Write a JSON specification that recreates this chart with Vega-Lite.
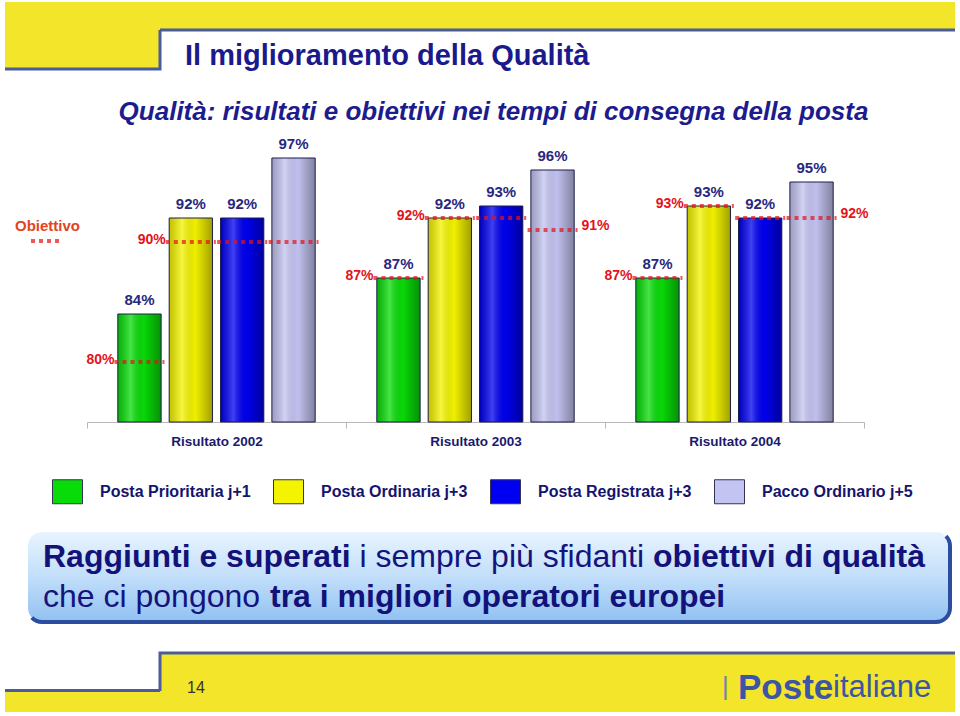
{
  "$schema": "https://vega.github.io/schema/vega-lite/v6.json",
  "padding": 0,
  "background": "white",
  "config": {"view": {"stroke": null}, "font": "Liberation Sans"},
  "datasets": {
    "qualita": [
      {"anno": "Risultato 2002", "servizio": "Posta Prioritaria j+1", "risultato": 0.84, "obiettivo": 0.80},
      {"anno": "Risultato 2002", "servizio": "Posta Ordinaria j+3", "risultato": 0.92, "obiettivo": 0.90},
      {"anno": "Risultato 2002", "servizio": "Posta Registrata j+3", "risultato": 0.92, "obiettivo": 0.90},
      {"anno": "Risultato 2002", "servizio": "Pacco Ordinario j+5", "risultato": 0.97, "obiettivo": 0.90},
      {"anno": "Risultato 2003", "servizio": "Posta Prioritaria j+1", "risultato": 0.87, "obiettivo": 0.87},
      {"anno": "Risultato 2003", "servizio": "Posta Ordinaria j+3", "risultato": 0.92, "obiettivo": 0.92},
      {"anno": "Risultato 2003", "servizio": "Posta Registrata j+3", "risultato": 0.93, "obiettivo": 0.92},
      {"anno": "Risultato 2003", "servizio": "Pacco Ordinario j+5", "risultato": 0.96, "obiettivo": 0.91},
      {"anno": "Risultato 2004", "servizio": "Posta Prioritaria j+1", "risultato": 0.87, "obiettivo": 0.87},
      {"anno": "Risultato 2004", "servizio": "Posta Ordinaria j+3", "risultato": 0.93, "obiettivo": 0.93},
      {"anno": "Risultato 2004", "servizio": "Posta Registrata j+3", "risultato": 0.92, "obiettivo": 0.92},
      {"anno": "Risultato 2004", "servizio": "Pacco Ordinario j+5", "risultato": 0.95, "obiettivo": 0.92}
    ],
    "banner": [
      {"riga": 1, "parte": "1a", "testo": "Raggiunti e superati"},
      {"riga": 1, "parte": "1b", "testo": "i sempre più sfidanti"},
      {"riga": 1, "parte": "1c", "testo": "obiettivi di qualità"},
      {"riga": 2, "parte": "2a", "testo": "che ci pongono"},
      {"riga": 2, "parte": "2b", "testo": "tra i migliori operatori europei"}
    ],
    "piede": [
      {"voce": "pagina", "testo": "14"},
      {"voce": "separatore", "testo": "|"},
      {"voce": "marchio1", "testo": "Poste"},
      {"voce": "marchio2", "testo": "italiane"}
    ]
  },
  "spacing": 0,
  "bounds": "full",
  "vconcat": [
    {
      "spacing": 0,
      "bounds": "flush",
      "hconcat": [
        {"width": 5, "height": 1, "data": {"values": []}, "mark": "point"},
        {"width": 155, "height": 67, "data": {"values": []}, "mark": "point",
         "view": {"fill": "#f3e52a", "stroke": "#4a5c9c", "strokeWidth": 3, "strokeDash": [0, 183, 194, 67]}},
        {"width": 795, "height": 28, "data": {"values": []}, "mark": "point",
         "view": {"fill": "#f3e52a", "stroke": "#4a5c9c", "strokeWidth": 3, "strokeDash": [0, 823, 795, 28]},
         "title": {"text": "Il miglioramento della Qualità", "orient": "bottom", "anchor": "start", "frame": "group", "dx": 25, "offset": 12, "fontSize": 29, "fontWeight": "bold", "color": "#1a1a8c"}}
      ]
    },
    {"width": 1, "height": 26, "data": {"values": []}, "mark": "point"},
    {
      "spacing": 0,
      "bounds": "flush",
      "hconcat": [
        {"width": 87, "height": 1, "data": {"values": []}, "mark": "point"},
        {
          "width": 777,
          "height": 300,
          "data": {"name": "qualita"},
          "title": {"text": "Qualità: risultati e obiettivi nei tempi di consegna della posta", "anchor": "middle", "frame": "group", "dx": 18, "offset": -3, "fontSize": 26, "fontWeight": "bold", "fontStyle": "italic", "color": "#1c1c8e"},
          "encoding": {
            "x": {"field": "anno", "type": "nominal", "sort": null,
                  "scale": {"paddingInner": 0, "paddingOuter": 0},
                  "axis": {"title": null, "labelAngle": 0, "tickBand": "extent", "domainColor": "#b8b8b8", "tickColor": "#b8b8b8", "tickSize": 6, "labelFontSize": 13.5, "labelFontWeight": "bold", "labelColor": "#1a1a6e", "labelPadding": 6, "grid": false}},
            "xOffset": {"field": "servizio", "type": "nominal",
                        "scale": {"domain": ["Posta Prioritaria j+1", "Posta Ordinaria j+3", "Posta Registrata j+3", "Pacco Ordinario j+5"], "paddingInner": 0.157, "paddingOuter": 0.6}}
          },
          "layer": [
            {
              "mark": {"type": "bar"},
              "encoding": {
                "y": {"field": "risultato", "type": "quantitative", "scale": {"domain": [0.75, 1.0], "zero": false, "nice": false, "clamp": true}, "axis": null},
                "fill": {"field": "servizio", "type": "nominal",
                  "scale": {
                    "domain": ["Posta Prioritaria j+1", "Posta Ordinaria j+3", "Posta Registrata j+3", "Pacco Ordinario j+5"],
                    "range": ["#08dc08", "#f4f400", "#0000f0", "#c4c4f2"]
                  },
                  "legend": {"title": null, "orient": "none", "legendX": 55, "legendY": 477, "direction": "horizontal", "columns": 4, "columnPadding": 20, "labelOffset": 20, "labelFontSize": 16, "labelFontWeight": "bold", "labelColor": "#14146e", "labelLimit": 300, "symbolType": "M-1.25,-1H1.25V1H-1.25Z", "symbolSize": 576, "symbolStrokeColor": "#333355", "symbolStrokeWidth": 1, "symbolOpacity": 1, "padding": 0}
                }
              }
            },
            {
              "mark": {"type": "bar", "stroke": "#1c1c4c", "strokeWidth": 1,
                       "color": {"gradient": "linear", "x1": 0, "y1": 0, "x2": 1, "y2": 0,
                                 "stops": [{"offset": 0, "color": "rgba(0,0,0,0.2)"}, {"offset": 0.3, "color": "rgba(255,255,255,0.25)"}, {"offset": 0.6, "color": "rgba(0,0,0,0.02)"}, {"offset": 1, "color": "rgba(0,0,0,0.34)"}]}},
              "encoding": {
                "y": {"field": "risultato", "type": "quantitative"}
              }
            },
            {
              "mark": {"type": "text", "baseline": "alphabetic", "dy": -9, "fontSize": 15, "fontWeight": "bold", "color": "#28287e"},
              "encoding": {
                "y": {"field": "risultato", "type": "quantitative"},
                "text": {"field": "risultato", "type": "quantitative", "format": ".0%"}
              }
            },
            {
              "mark": {"type": "tick", "orient": "horizontal", "thickness": 0, "size": 50, "filled": false, "strokeWidth": 4, "strokeDash": [4, 4]},
              "encoding": {
                "y": {"field": "obiettivo", "type": "quantitative"},
                "stroke": {"datum": "Obiettivo", "type": "nominal", "scale": {"range": ["#e3121b"]},
                  "legend": {"title": "Obiettivo", "orient": "none", "legendX": 15, "legendY": 217, "padding": 0, "labelExpr": "''", "labelOffset": 0, "symbolType": "M-3,0H3", "symbolSize": 87, "symbolStrokeWidth": 4, "symbolDash": [4, 4], "symbolOffset": 23, "titleFontSize": 15, "titleFontWeight": "bold", "titleColor": "#e2441e", "titlePadding": 0}}
              }
            },
            {
              "transform": [{"filter": "datum.servizio == 'Posta Prioritaria j+1' || datum.servizio == 'Posta Ordinaria j+3'"}],
              "mark": {"type": "text", "align": "right", "baseline": "middle", "dx": -25, "dy": -2, "fontSize": 14, "fontWeight": "bold", "color": "#e3121b"},
              "encoding": {
                "y": {"field": "obiettivo", "type": "quantitative"},
                "text": {"field": "obiettivo", "type": "quantitative", "format": ".0%"}
              }
            },
            {
              "transform": [{"filter": "datum.servizio == 'Pacco Ordinario j+5' && datum.anno != 'Risultato 2002'"}],
              "mark": {"type": "text", "align": "left", "baseline": "middle", "dx": 29, "dy": -4, "fontSize": 14, "fontWeight": "bold", "color": "#e3121b"},
              "encoding": {
                "y": {"field": "obiettivo", "type": "quantitative"},
                "text": {"field": "obiettivo", "type": "quantitative", "format": ".0%"}
              }
            }
          ]
        }
      ]
    },
    {"width": 1, "height": 82, "data": {"values": []}, "mark": "point"},
    {
      "spacing": 0,
      "bounds": "flush",
      "hconcat": [
        {"width": 28, "height": 1, "data": {"values": []}, "mark": "point"},
        {
          "width": 922,
          "height": 90,
          "data": {"name": "banner"},
          "view": {"fill": {"gradient": "linear", "x1": 0, "y1": 0, "x2": 0, "y2": 1, "stops": [{"offset": 0, "color": "#e8f4ff"}, {"offset": 0.5, "color": "#c2defa"}, {"offset": 1, "color": "#90c1f1"}]}, "cornerRadius": 14, "stroke": "#2c4ca0", "strokeWidth": 4, "strokeDash": [0, 905, 1000, 95]},
          "encoding": {
            "y": {"field": "riga", "type": "ordinal", "scale": {"type": "point", "padding": 0.65}, "axis": null},
            "text": {"field": "testo", "type": "nominal"}
          },
          "layer": [
            {
              "transform": [{"filter": "datum.parte == '1a' || datum.parte == '1c' || datum.parte == '2b'"}],
              "mark": {"type": "text", "align": "left", "baseline": "middle", "fontSize": 32, "fontWeight": "bold", "color": "#12127a",
                       "dx": {"expr": "datum.parte == '1a' ? -446 : (datum.parte == '1c' ? 164 : -219)"}}
            },
            {
              "transform": [{"filter": "datum.parte == '1b' || datum.parte == '2a'"}],
              "mark": {"type": "text", "align": "left", "baseline": "middle", "fontSize": 32, "fontWeight": "normal", "color": "#14147e",
                       "dx": {"expr": "datum.parte == '1b' ? -129.5 : -446"}}
            }
          ]
        }
      ]
    },
    {"width": 1, "height": 27, "data": {"values": []}, "mark": "point"},
    {
      "spacing": 0,
      "bounds": "flush",
      "hconcat": [
        {"width": 5, "height": 1, "data": {"values": []}, "mark": "point"},
        {"width": 155, "height": 59, "data": {"values": []}, "mark": "point",
         "view": {"fill": {"gradient": "linear", "x1": 0, "y1": 0, "x2": 0, "y2": 1, "stops": [{"offset": 0, "color": "#ffffff"}, {"offset": 0.61, "color": "#ffffff"}, {"offset": 0.61, "color": "#4a5c9c"}, {"offset": 0.66, "color": "#4a5c9c"}, {"offset": 0.66, "color": "#f3e52a"}, {"offset": 1, "color": "#f3e52a"}]}}},
        {
          "width": 795,
          "height": 59,
          "data": {"name": "piede"},
          "view": {"fill": "#f3e52a", "stroke": "#4a5c9c", "strokeWidth": 3, "strokeDash": [795, 875, 38]},
          "encoding": {"text": {"field": "testo", "type": "nominal"}},
          "layer": [
            {"transform": [{"filter": "datum.voce == 'pagina'"}],
             "mark": {"type": "text", "align": "left", "baseline": "middle", "dx": -370.5, "dy": 5.5, "fontSize": 16, "color": "#333333"}},
            {"transform": [{"filter": "datum.voce == 'separatore'"}],
             "mark": {"type": "text", "align": "left", "baseline": "middle", "dx": 164.5, "dy": 4, "fontSize": 26, "color": "#7080b0"}},
            {"transform": [{"filter": "datum.voce == 'marchio1'"}],
             "mark": {"type": "text", "align": "left", "baseline": "middle", "dx": 180.5, "dy": 5.5, "fontSize": 35, "fontWeight": "bold", "color": "#3c55a5"}},
            {"transform": [{"filter": "datum.voce == 'marchio2'"}],
             "mark": {"type": "text", "align": "left", "baseline": "middle", "dx": 275.5, "dy": 5.5, "fontSize": 31, "color": "#3c55a5"}}
          ]
        }
      ]
    }
  ]
}
